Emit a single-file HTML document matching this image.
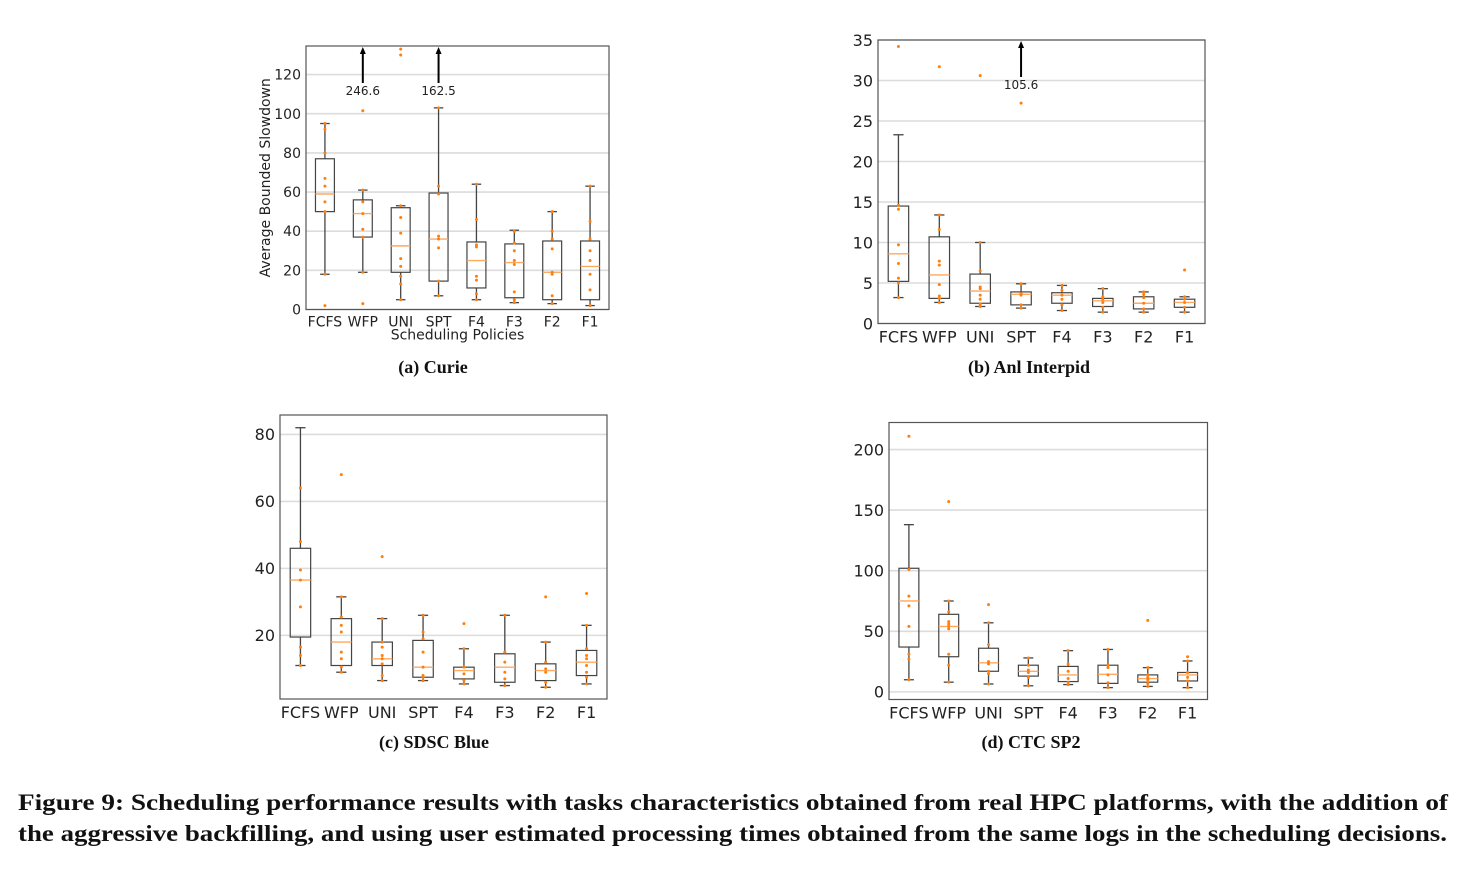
<!DOCTYPE html>
<html><head><meta charset="utf-8">
<style>
html,body{margin:0;padding:0;background:#fff;}
svg{display:block;}
.tick{font-family:"DejaVu Sans","Liberation Sans",sans-serif;font-size:16px;fill:#222;}
.cap{font-family:"Liberation Serif",serif;font-weight:bold;font-size:18px;fill:#111;}
.fig{font-family:"Liberation Serif",serif;font-weight:bold;font-size:23px;fill:#111;}
</style></head>
<body>
<svg id="root" width="1471" height="883" viewBox="0 0 1471 883" xmlns="http://www.w3.org/2000/svg">
<text class="cap" x="433" y="373" text-anchor="middle">(a) Curie</text>
<text class="cap" x="1029" y="373" text-anchor="middle">(b) Anl Interpid</text>
<text class="cap" x="434" y="748" text-anchor="middle">(c) SDSC Blue</text>
<text class="cap" x="1031" y="748" text-anchor="middle">(d) CTC SP2</text>
<text class="fig" x="18" y="810" textLength="1430" lengthAdjust="spacingAndGlyphs">Figure 9: Scheduling performance results with tasks characteristics obtained from real HPC platforms, with the addition of</text>
<text class="fig" x="18" y="841" textLength="1429" lengthAdjust="spacingAndGlyphs">the aggressive backfilling, and using user estimated processing times obtained from the same logs in the scheduling decisions.</text>
</svg>
<script>
const categories = ["FCFS","WFP","UNI","SPT","F4","F3","F2","F1"];

// [whiskerLow, q1, median, q3, whiskerHigh]
const curieStats = [[18,50,59,77,95],[19,37,49,56,61],[5,19,32.5,52,53],[7,14.5,36,59.5,103],[5,11,25,34.5,64],[3.5,6,24,33.5,40.5],[3,5,19,35,50],[2,5,22,35,63]];
const curiePoints = [[2,18,50,55,63,67,80,92,95],[3,19,37,41,49,55,61,101.5,246.6],[5,13,17,22,26,39,47,53,130,133],[7,14.5,31.5,36,37.5,59,63,103,162.5],[5,8,15,17,32,33,46,64],[3.5,5,9,23,25,30,34,40],[3,7,18,19,31,36,40,50],[2,10,18,25,30,36,45,63]];
const curieArrows = [[1,246.6],[3,162.5]];
const curieTicks = [0,20,40,60,80,100,120];

const anlStats = [[3.2,5.2,8.6,14.5,23.3],[2.6,3.1,6,10.7,13.4],[2.1,2.5,4,6.1,10],[1.9,2.3,3.6,3.9,4.9],[1.6,2.5,3.5,3.8,4.7],[1.4,2.1,2.8,3.1,4.3],[1.4,1.8,2.5,3.3,3.9],[1.4,2,2.6,3,3.3]];
const anlPoints = [[3.2,5,5.6,7.4,9.7,14.1,14.6,34.2],[2.6,3.1,3.4,4.8,7.2,7.7,11.6,13.4,31.7],[2.1,2.4,3,3.5,4.3,4.5,6.5,10,30.6],[1.9,2.3,3.5,3.7,4.9,27.2,105.6],[1.6,2.3,3,3.5,4.1,4.7],[1.4,2,2.6,3,3.3,4.3],[1.4,1.8,2.5,3.2,3.6,3.9],[1.4,2,2.6,3,3.3,6.6]];
const anlArrows = [[3,105.6]];
const anlTicks = [0,5,10,15,20,25,30,35];

const sdscStats = [[11,19.5,36.5,46,82],[9,11,18,25,31.5],[6.5,11,13,18,25],[6.5,7.5,10.5,18.5,26],[5.5,7,9.5,10.5,16],[5,6,10.5,14.5,26],[4.5,6.5,9.5,11.5,18],[5.5,8,12,15.5,23]];
const sdscPoints = [[11,14,16.5,28.5,36.5,39.5,48,64],[9,10.5,13,15,21,23,25.5,31.5,68],[6.5,8,11.5,13,14,16.5,18,25,43.5],[6.5,7.5,8,10.5,15,19,21,26],[5.5,6.5,8.5,10.5,16,23.5],[5,7,9,12,15,26],[4.5,6,9,10,12,18,31.5],[5.5,7.5,9,11,13,14,16,23,32.5]];
const sdscArrows = [];
const sdscTicks = [20,40,60,80];

const ctcStats = [[10,37,75,102,138],[8,29,54,64,75],[6.5,17,24,36,57],[5,13,17,22,28],[6,8.5,14,21,34],[3.5,7,14.5,22,35],[4.5,8,11,14,20],[3.5,9,14,16,25.5]];
const ctcPoints = [[10,27,31,54,71,79,101,211],[8,22,31,52,54,56,58,66,75,157],[6.5,15,17,23,25,39,57,72],[5,12,16,18,22,28],[6,8,11,17,23,34],[3.5,7.5,14,20,22,35],[4.5,7,10,12,14,20,59],[3.5,9,12,16,25.5,29]];
const ctcArrows = [];
const ctcTicks = [0,50,100,150,200];

const NS = "http://www.w3.org/2000/svg";
const root = document.getElementById('root');
function mk(tag, attrs, parent){
  const e = document.createElementNS(NS, tag);
  for (const k in attrs) e.setAttribute(k, attrs[k]);
  (parent||root).appendChild(e);
  return e;
}

function drawPanel(name, L, R, T, B, ymin, ymax, stats, points, arrows, ticks, withLabels, fs){
  const g = mk('g', {});
  
  
  const sy = v => B - (v - ymin) / (ymax - ymin) * (B - T);
  const step = (R - L) / categories.length;
  const sx = i => L + step * (i + 0.5);
  const bw = step * 0.5;
  const st = 'font-size:' + fs + 'px';
  ticks.forEach(t => {
    const y = sy(t);
    const gl = mk('line', {x1:L, x2:R, y1:y, y2:y, stroke:'#dcdcdc', 'stroke-width':1.6}, g);
    
    
    const tl = mk('text', {x:L-5, y:y+fs*0.36, 'text-anchor':'end', class:'tick', style:st}, g);
    tl.textContent = t;
    
    
  });
  categories.forEach((c, i) => {
    const s = stats[i];
    const x = sx(i);
    const bg = mk('g', {}, g);
    
    
    const col = '#444';
    mk('line', {x1:x, x2:x, y1:sy(s[0]), y2:sy(s[1]), stroke:col, 'stroke-width':1.3}, bg);
    mk('line', {x1:x, x2:x, y1:sy(s[3]), y2:sy(s[4]), stroke:col, 'stroke-width':1.3}, bg);
    mk('line', {x1:x-bw/4, x2:x+bw/4, y1:sy(s[0]), y2:sy(s[0]), stroke:col, 'stroke-width':1.3}, bg);
    mk('line', {x1:x-bw/4, x2:x+bw/4, y1:sy(s[4]), y2:sy(s[4]), stroke:col, 'stroke-width':1.3}, bg);
    mk('rect', {x:x-bw/2, y:sy(s[3]), width:bw, height:sy(s[1])-sy(s[3]), fill:'none', stroke:col, 'stroke-width':1.2}, bg);
    mk('line', {x1:x-bw/2, x2:x+bw/2, y1:sy(s[2]), y2:sy(s[2]), stroke:'#ffa860', 'stroke-width':1.4}, bg);
    points[i].forEach(v => {
      if (v > ymax || v < ymin) return;
      const p = mk('circle', {cx:x, cy:sy(v), r:1.5, fill:'#ff7f0e'}, bg);
      
      
    });
    const xl = mk('text', {x:x, y:B+fs+3, 'text-anchor':'middle', class:'tick', style:st}, g);
    xl.textContent = c;
    
    
  });
  arrows.forEach(a => {
    const x = sx(a[0]);
    const ag = mk('g', {}, g);
    
    
    mk('line', {x1:x, x2:x, y1:T+37, y2:T+6, stroke:'#000', 'stroke-width':2}, ag);
    mk('polygon', {points:`${x-3},${T+8} ${x+3},${T+8} ${x},${T+1}`, fill:'#000'}, ag);
    const t = mk('text', {x:x, y:T+49, 'text-anchor':'middle', class:'tick', style:'font-size:12px'}, ag);
    t.textContent = a[1];
  });
  const fr = mk('rect', {x:L, y:T, width:R-L, height:B-T, fill:'none', stroke:'#555', 'stroke-width':1.2}, g);
  
  
  if (withLabels) {
    const xt = mk('text', {x:(L+R)/2, y:B+30, 'text-anchor':'middle', class:'tick', style:'font-size:14px'}, g);
    xt.textContent = 'Scheduling Policies';
    
    
    const yt = mk('text', {x:0, y:0, 'text-anchor':'middle', class:'tick', style:'font-size:14px', transform:`translate(270,${(T+B)/2}) rotate(-90)`}, g);
    yt.textContent = 'Average Bounded Slowdown';
    
    
  }
}

drawPanel('curie', 306, 609, 46, 309.5, 0, 134.6, curieStats, curiePoints, curieArrows, curieTicks, true, 14);
drawPanel('anl-interpid', 878, 1205, 40, 323.5, 0, 35, anlStats, anlPoints, anlArrows, anlTicks, false, 16);
drawPanel('sdsc-blue', 280, 607, 415, 699, 1, 85.8, sdscStats, sdscPoints, sdscArrows, sdscTicks, false, 16);
drawPanel('ctc-sp2', 889, 1207.5, 422.5, 699.5, -6.3, 222.3, ctcStats, ctcPoints, ctcArrows, ctcTicks, false, 16);
</script>
</body></html>
